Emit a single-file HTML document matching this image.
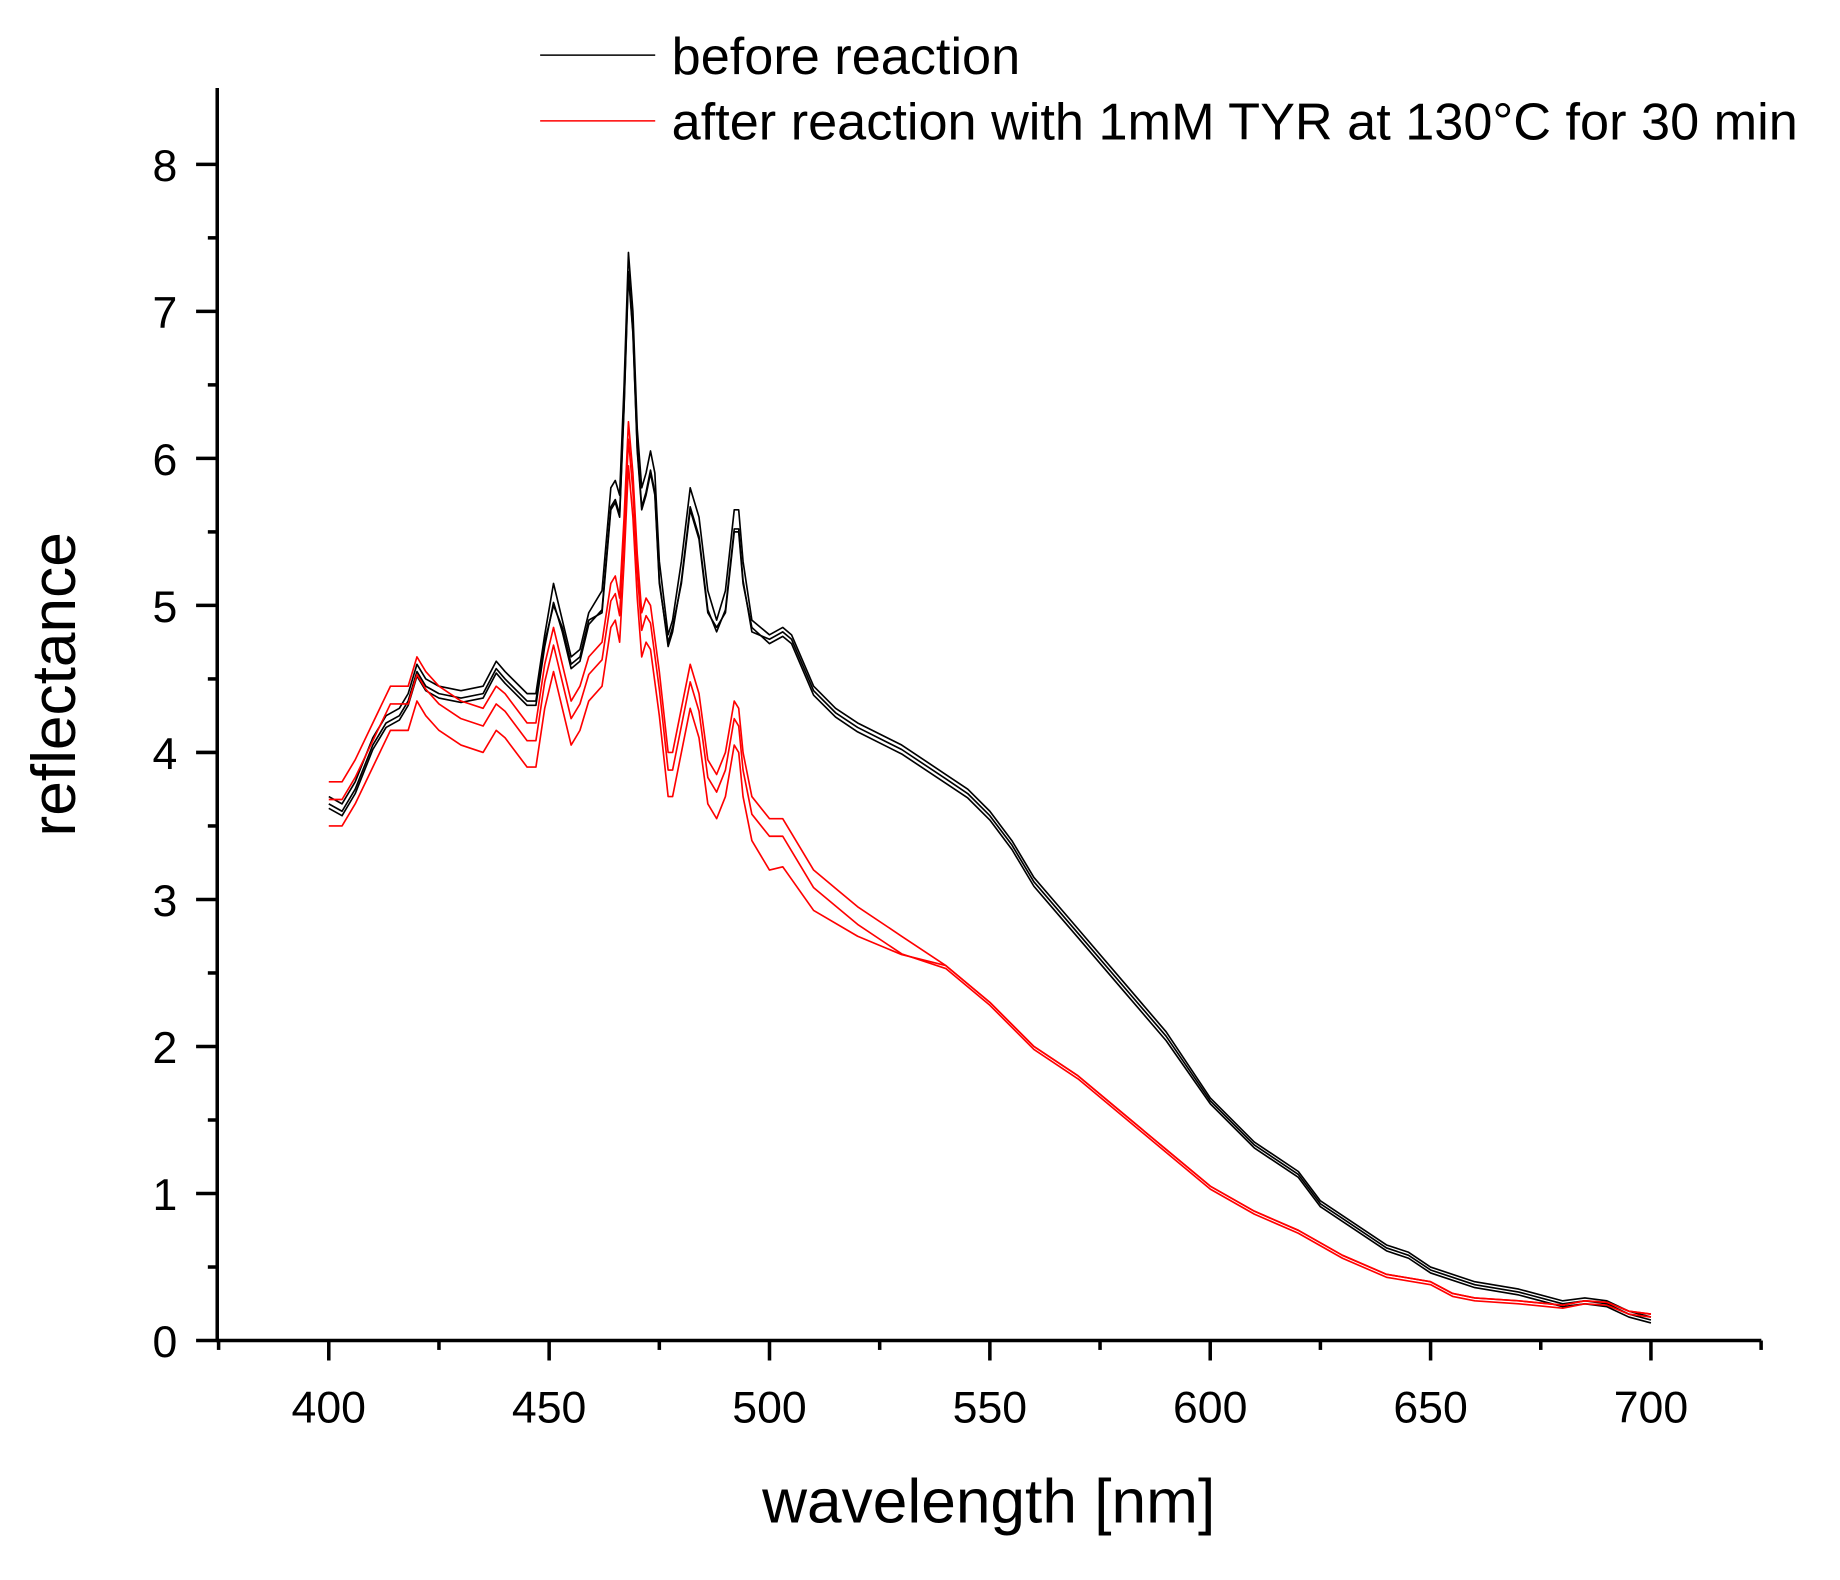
<!DOCTYPE html>
<html><head><meta charset="utf-8"><style>html,body{margin:0;padding:0;background:#fff}svg{display:block}</style></head>
<body>
<svg id="s" width="1840" height="1580" viewBox="0 0 1567 1346" preserveAspectRatio="none" xmlns="http://www.w3.org/2000/svg" font-family="Liberation Sans, Arial, sans-serif">
<rect width="1567" height="1346" fill="#fff"/>
<g id="g"></g>
<line x1="185" y1="75" x2="185" y2="1143" stroke="#000" stroke-width="3"/>
<line x1="184" y1="1142" x2="1500" y2="1142" stroke="#000" stroke-width="3"/>
<g id="t" stroke="#000" stroke-width="3"></g>
<g id="l" font-size="38" fill="#000"></g>
<text x="842" y="1297" font-size="53" text-anchor="middle">wavelength [nm]</text>
<text transform="translate(64,583) rotate(-90)" font-size="53" text-anchor="middle">reflectance</text>
<line x1="460" y1="47" x2="558" y2="47" stroke="#000" stroke-width="1.3"/>
<line x1="460" y1="103" x2="558" y2="103" stroke="#f00" stroke-width="1.3"/>
<text x="572" y="63" font-size="44.5">before reaction</text>
<text x="572" y="119" font-size="44.5">after reaction with 1mM TYR at 130°C for 30 min</text>
</svg>
<script>
const X=v=>280+(v-400)*3.7533, Y=v=>1142-v*125.25;
const NS="http://www.w3.org/2000/svg";
let t=document.getElementById('t'),l=document.getElementById('l'),g=document.getElementById('g');
function ln(p,a,b,c,d){let e=document.createElementNS(NS,'line');e.setAttribute('x1',a);e.setAttribute('y1',b);e.setAttribute('x2',c);e.setAttribute('y2',d);p.appendChild(e);}
function tx(s,x,y,a){let e=document.createElementNS(NS,'text');e.setAttribute('x',x);e.setAttribute('y',y);e.setAttribute('text-anchor',a);e.textContent=s;l.appendChild(e);}
for(let i=0;i<=16;i++){let y=Y(i/2);ln(t,i%2?177:167,y,185,y);if(i%2==0)tx(i/2,151,y+14,'end');}
for(let v=375;v<=725;v+=25){let x=X(v);ln(t,x,1142,x,v%50?1150:1159);if(v%50==0&&v>=400&&v<=700)tx(v,x,1212,'middle');}
const B=[[400,3.7],[403,3.65],[406,3.8],[410,4.1],[413,4.25],[416,4.3],[418,4.4],[420,4.6],[422,4.5],[425,4.45],[430,4.42],[435,4.45],[438,4.62],[440,4.55],[445,4.4],[447,4.4],[449,4.8],[451,5.15],[453,4.9],[455,4.65],[457,4.7],[459,4.95],[462,5.1],[464,5.8],[465,5.85],[466,5.75],[467,6.5],[468,7.4],[469,7.0],[470,6.2],[471,5.8],[472,5.9],[473,6.05],[474,5.9],[475,5.3],[477,4.8],[478,4.9],[480,5.3],[482,5.8],[484,5.6],[486,5.1],[488,4.9],[490,5.1],[492,5.65],[493,5.65],[494,5.3],[496,4.9],[500,4.8],[503,4.85],[505,4.8],[510,4.45],[515,4.3],[520,4.2],[530,4.05],[540,3.85],[545,3.75],[550,3.6],[555,3.4],[560,3.15],[570,2.8],[580,2.45],[590,2.1],[600,1.65],[610,1.35],[620,1.15],[625,0.95],[630,0.85],[640,0.65],[645,0.6],[650,0.5],[660,0.4],[670,0.35],[680,0.27],[685,0.29],[690,0.27],[695,0.2],[700,0.16]];
const R=[[400,3.8],[403,3.8],[406,3.95],[410,4.2],[414,4.45],[416,4.45],[418,4.45],[420,4.65],[422,4.55],[425,4.45],[430,4.35],[435,4.3],[438,4.45],[440,4.4],[445,4.2],[447,4.2],[449,4.6],[451,4.85],[453,4.6],[455,4.35],[457,4.45],[459,4.65],[462,4.75],[464,5.15],[465,5.2],[466,5.05],[467,5.6],[468,6.25],[469,5.9],[470,5.35],[471,4.95],[472,5.05],[473,5.0],[475,4.55],[477,4.0],[478,4.0],[480,4.3],[482,4.6],[484,4.4],[486,3.95],[488,3.85],[490,4.0],[492,4.35],[493,4.3],[494,4.0],[496,3.7],[500,3.55],[503,3.55],[505,3.45],[510,3.2],[520,2.95],[530,2.75],[540,2.55],[550,2.3],[560,2.0],[570,1.8],[580,1.55],[590,1.3],[600,1.05],[610,0.88],[620,0.75],[630,0.58],[640,0.45],[650,0.4],[655,0.32],[660,0.29],[670,0.27],[680,0.24],[685,0.27],[690,0.26],[695,0.2],[700,0.18]];
function path(d,f,c){let s=d.map((p,i)=>(i?'L':'M')+X(p[0]).toFixed(1)+','+Y(p[1]+f(p[0],p[1])).toFixed(1)).join('');let e=document.createElementNS(NS,'path');e.setAttribute('d',s);e.setAttribute('fill','none');e.setAttribute('stroke',c);e.setAttribute('stroke-width','1.4');e.setAttribute('stroke-linejoin','round');g.appendChild(e);}
path(B,()=>0,'#000');
path(B,(x,v)=>x<500?-0.05-(v>5?0.1:0):(x<600?-0.06:-0.04),'#000');
path(B,(x,v)=>x<500?-0.08-(v>5?0.05:0):(x<600?-0.03:-0.02),'#000');
path(R,()=>0,'#f00');
path(R,(x,v)=>x<540?-0.12:-0.02,'#f00');
path(R,(x,v)=>x<500?-0.3:(x<540?-0.3*(540-x)/40-0.05:0),'#f00');
</script>
</body></html>
